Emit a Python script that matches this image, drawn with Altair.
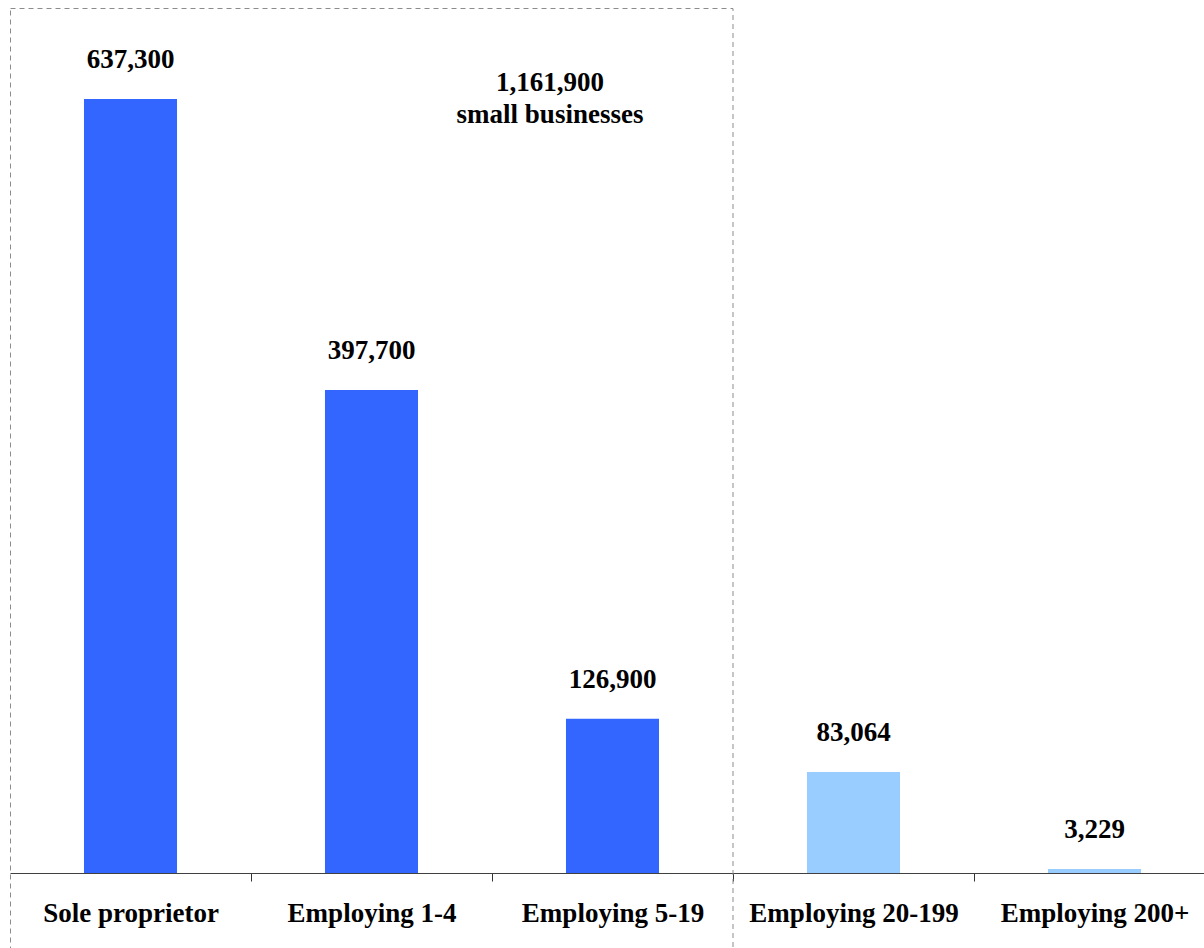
import altair as alt
import pandas as pd

categories = ["Sole proprietor", "Employing 1-4", "Employing 5-19", "Employing 20-199", "Employing 200+"]
values = [637300, 397700, 126900, 83064, 3229]
groups = ["small", "small", "small", "other", "other"]
annotation_lines = ["1,161,900", "small businesses"]

df = pd.DataFrame({"category": categories, "value": values, "group": groups})

FONT = "Liberation Serif"
FS = 27

x_enc = alt.X(
    "category:N",
    sort=categories,
    scale=alt.Scale(paddingInner=0.614, paddingOuter=0.307, range=[0, 1205]),
    axis=alt.Axis(
        title=None,
        labelAngle=0,
        labelFont=FONT,
        labelFontWeight="bold",
        labelFontSize=FS,
        labelColor="#000000",
        labelPadding=19,
        tickOffset=120.5,
        labelOffset=-120.5,
        tickSize=8,
        tickColor="#333333",
        domainColor="#404040",
        labelLimit=300,
    ),
)
y_enc = alt.Y("value:Q", scale=alt.Scale(domain=[0, 712200], nice=False), axis=None)

bars = alt.Chart(df).mark_bar().encode(
    x=x_enc,
    y=y_enc,
    color=alt.Color(
        "group:N",
        scale=alt.Scale(domain=["small", "other"], range=["#3366FF", "#99CCFF"]),
        legend=None,
    ),
)

labels = alt.Chart(df).mark_text(
    font=FONT, fontWeight="bold", fontSize=FS, dy=-31, baseline="alphabetic", color="#000000"
).encode(
    x=alt.X("category:N", sort=categories),
    y=alt.Y("value:Q"),
    text=alt.Text("value:Q", format=","),
)

box = alt.Chart(df).mark_rect(
    fill=None, fillOpacity=0, stroke="#8c8c8c", strokeWidth=1, strokeDash=[5, 4], clip=False
).encode(
    x=alt.value(0.5), x2=alt.value(723), y=alt.value(0.5), y2=alt.value(960)
).transform_filter(alt.datum.category == categories[0])

ann_df = pd.DataFrame({"text": [annotation_lines]})
annotation = alt.Chart(ann_df).mark_text(
    font=FONT, fontWeight="bold", fontSize=FS, align="center", baseline="alphabetic",
    lineHeight=32, color="#000000"
).encode(
    x=alt.value(540), y=alt.value(83), text="text"
)

chart = alt.layer(box, bars, labels, annotation).properties(
    width=1194, height=865,
    padding={"left": 10, "top": 8, "right": 0, "bottom": 75},
    autosize=alt.AutoSizeParams(type="none"),
    background="#ffffff",
).configure_view(stroke=None)

chart.save("out.html", embed_options={"renderer": "svg", "actions": False})
